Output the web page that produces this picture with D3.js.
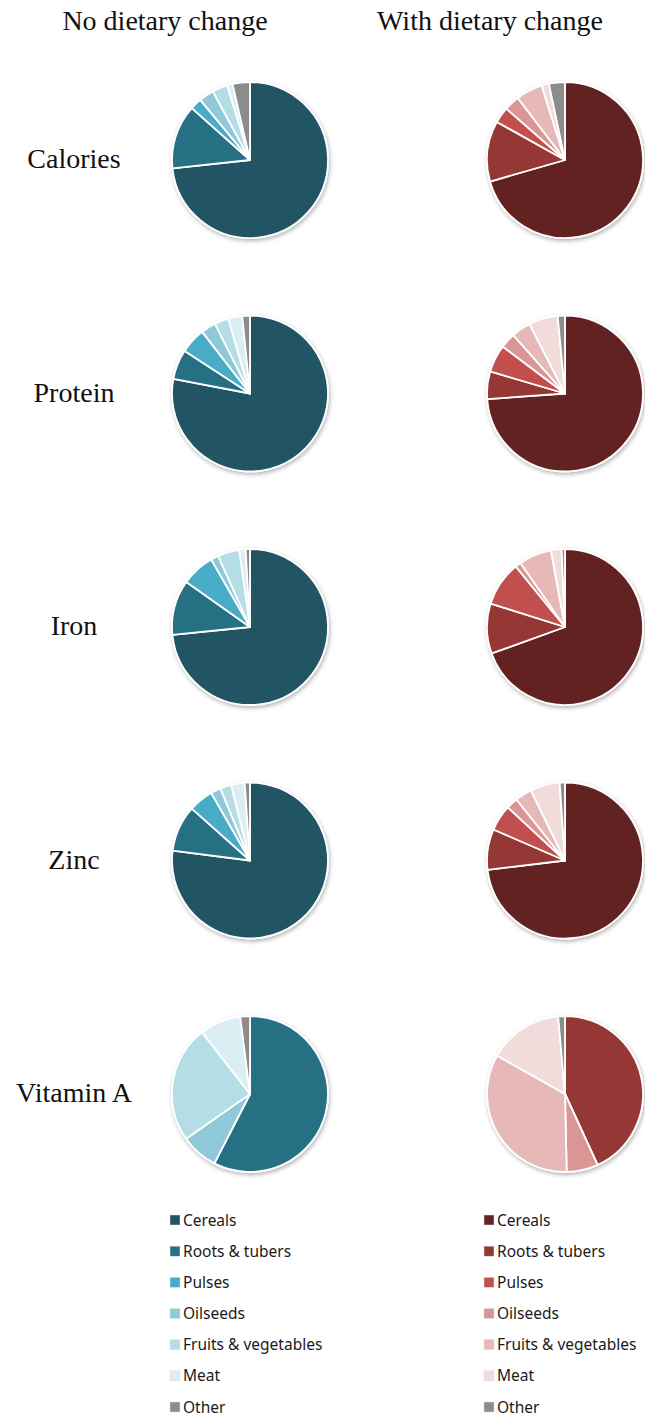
<!DOCTYPE html>
<html>
<head>
<meta charset="utf-8">
<script src="https://cdn.jsdelivr.net/npm/d3@7"></script>
<style>
  body { margin: 0; background: #fff; }
  svg { display: block; }
  .header, .rowLabel { font-family: "Liberation Serif", "Times New Roman", serif; fill: #111; }
  .legend text { font-family: "Noto Sans", "Open Sans", sans-serif; font-size: 15.5px; fill: #1a1a1a; }
</style>
</head>
<body>
<div class="container"></div>
<script>
// Data (shares of each nutrient, %)
var NUTRIENTS = ['Calories', 'Protein', 'Iron', 'Zinc', 'Vitamin A'];
var FOOD_GROUPS = ['Cereals', 'Roots & tubers', 'Pulses', 'Oilseeds', 'Fruits & vegetables', 'Meat', 'Other'];
var SCENARIOS = ['No dietary change', 'With dietary change'];

var NO_CHANGE = [
  [73.3, 13.3, 2.4, 3.1, 3.2, 1.1, 3.6],
  [78.0, 6.2, 5.3, 3.1, 2.9, 2.9, 1.6],
  [73.4, 11.4, 6.9, 1.6, 4.5, 1.3, 0.9],
  [77.0, 9.6, 5.1, 2.1, 2.3, 2.8, 1.1],
  [0, 57.5, 0, 7.7, 24.2, 8.5, 2.0]
];
var WITH_CHANGE = [
  [70.2, 12.5, 3.3, 3.2, 5.5, 1.5, 3.3],
  [73.7, 5.7, 5.7, 3.2, 4.0, 6.0, 1.5],
  [69.7, 10.4, 9.3, 1.2, 6.8, 2.2, 0.7],
  [73.1, 8.4, 5.4, 2.4, 3.5, 6.1, 1.1],
  [0, 43.1, 0, 6.5, 33.5, 15.4, 1.4]
];

var TEAL = ['#205464', '#287084', '#4aacc6', '#8fc9d9', '#b5dde6', '#dbeef3', '#8c8c8c'];
var REDS = ['#632423', '#953735', '#c0504d', '#d99694', '#e6b9b8', '#f2dcdb', '#8c8c8c'];

var width = 645, height = 1416, radius = 78;

var svg = d3.select('.container').append('svg')
    .attr('width', width)
    .attr('height', height);

// soft shadow under each pie
var filter = svg.append('defs').append('filter')
    .attr('id', 'shadow')
    .attr('x', '-20%').attr('y', '-20%')
    .attr('width', '140%').attr('height', '140%');
filter.append('feDropShadow')
    .attr('dx', 1).attr('dy', 2)
    .attr('stdDeviation', 2)
    .attr('flood-color', '#000')
    .attr('flood-opacity', 0.3);

var xScale = d3.scaleOrdinal().domain(SCENARIOS).range([250, 565]);
var yScale = d3.scalePoint().domain(NUTRIENTS).range([160, 1094]);

// Column headers
svg.selectAll('.header')
  .data(SCENARIOS)
  .enter().append('text')
    .attr('class', 'header')
    .attr('x', function(d, i) { return i == 0 ? 165 : 490; })
    .attr('y', 30)
    .attr('text-anchor', 'middle')
    .style('font-size', '28px')
    .text(function(d) { return d; });

// Row labels
svg.selectAll('.rowLabel')
  .data(NUTRIENTS)
  .enter().append('text')
    .attr('class', 'rowLabel')
    .attr('x', 74)
    .attr('y', function(d) { return yScale(d) + 8; })
    .attr('text-anchor', 'middle')
    .style('font-size', '28px')
    .text(function(d) { return d; });

var pie = d3.pie().sort(null).value(function(d) { return d; });
var arc = d3.arc().innerRadius(0).outerRadius(radius);

function drawPie(values, cx, cy, colors) {
  var g = svg.append('g')
      .attr('transform', 'translate(' + cx + ',' + cy + ')')
      .attr('filter', 'url(#shadow)');
  g.selectAll('path')
    .data(pie(values))
    .enter().append('path')
      .attr('d', arc)
      .attr('fill', function(d, i) { return colors[i]; })
      .attr('stroke', '#fff')
      .attr('stroke-width', 1.8)
      .attr('stroke-linejoin', 'round');
}

NUTRIENTS.forEach(function(n, i) {
  drawPie(NO_CHANGE[i], xScale(SCENARIOS[0]), yScale(n), TEAL);
  drawPie(WITH_CHANGE[i], xScale(SCENARIOS[1]), yScale(n), REDS);
});

// Legends
var legendY = d3.scalePoint().domain(FOOD_GROUPS).range([1220, 1407]);

function drawLegend(x, colors) {
  var lg = svg.append('g').attr('class', 'legend');
  var item = lg.selectAll('g')
    .data(FOOD_GROUPS)
    .enter().append('g')
      .attr('transform', function(d) { return 'translate(' + x + ',' + legendY(d) + ')'; });
  item.append('rect')
      .attr('x', 0).attr('y', -5)
      .attr('width', 10).attr('height', 10)
      .attr('fill', function(d, i) { return colors[i]; })
      .attr('stroke', '#ddd').attr('stroke-width', 0.5);
  item.append('text')
      .attr('x', 13)
      .attr('y', 5.5)
      .text(function(d) { return d; });
}

drawLegend(170, TEAL);
drawLegend(484, REDS);
</script>
</body>
</html>
